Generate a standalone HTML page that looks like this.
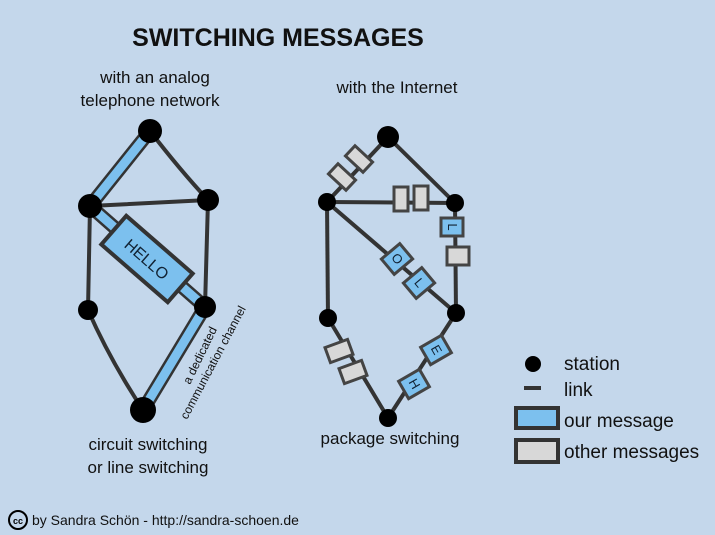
<!DOCTYPE html>
<html><head><style>
body{margin:0;background:#c4d7eb;}
svg{display:block;font-family:"Liberation Sans",sans-serif;}
</style></head><body>
<svg width="715" height="535" viewBox="0 0 715 535">
<rect width="715" height="535" fill="#c4d7eb"/>
<text x="278" y="46" font-size="25" font-weight="bold" text-anchor="middle" fill="#111">SWITCHING MESSAGES</text>
<text x="155" y="83" font-size="17" text-anchor="middle" fill="#111">with an analog</text>
<text x="150" y="106" font-size="17" text-anchor="middle" fill="#111">telephone network</text>
<text x="397" y="93" font-size="17" text-anchor="middle" fill="#111">with the Internet</text>
<text x="148" y="450" font-size="17" text-anchor="middle" fill="#111">circuit switching</text>
<text x="148" y="473" font-size="17" text-anchor="middle" fill="#111">or line switching</text>
<text x="390" y="444" font-size="17" text-anchor="middle" fill="#111">package switching</text>
<g stroke="#333" stroke-width="4" fill="none" stroke-linecap="round">
<path d="M150 131 Q180 170 208 200"/>
<path d="M90 206 L208 200"/>
<path d="M90 206 L88 310"/>
<path d="M208 200 L205 307"/>
<path d="M88 310 Q110 360 143 410"/>
</g>
<line x1="150" y1="131" x2="90" y2="206" stroke="#333" stroke-width="14"/>
<line x1="150" y1="131" x2="90" y2="206" stroke="#7cc0ee" stroke-width="9"/>
<line x1="205" y1="307" x2="143" y2="410" stroke="#333" stroke-width="14"/>
<line x1="205" y1="307" x2="143" y2="410" stroke="#7cc0ee" stroke-width="9"/>
<line x1="90" y1="206" x2="205" y2="307" stroke="#333" stroke-width="14"/>
<line x1="90" y1="206" x2="205" y2="307" stroke="#7cc0ee" stroke-width="9"/>
<g transform="translate(147,259) rotate(41)">
<rect x="-44" y="-19" width="88" height="38" fill="#7cc0ee" stroke="#333" stroke-width="4"/>
<text x="0" y="6" font-size="16" text-anchor="middle" fill="#123">HELLO</text>
</g>
<g fill="#000">
<circle cx="150" cy="131" r="12"/><circle cx="90" cy="206" r="12"/><circle cx="208" cy="200" r="11"/>
<circle cx="88" cy="310" r="10"/><circle cx="205" cy="307" r="11"/><circle cx="143" cy="410" r="13"/>
</g>
<text transform="translate(190,385) rotate(-64)" font-size="12" fill="#111">a dedicated</text>
<text transform="translate(187,420) rotate(-62)" font-size="12" fill="#111">communication channel</text>
<g stroke="#333" stroke-width="4" fill="none">
<line x1="388" y1="137" x2="327" y2="202"/>
<line x1="388" y1="137" x2="455" y2="203"/>
<line x1="327" y1="202" x2="455" y2="203"/>
<line x1="327" y1="202" x2="328" y2="318"/>
<line x1="327" y1="202" x2="456" y2="313"/>
<line x1="455" y1="203" x2="456" y2="313"/>
<line x1="328" y1="318" x2="388" y2="418"/>
<line x1="456" y1="313" x2="388" y2="418"/>
</g>
<g stroke="#444" stroke-width="3">
<rect x="-12" y="-7" width="24" height="14" fill="#d8d8d8" transform="translate(359,159) rotate(43)"/>
<rect x="-12" y="-7" width="24" height="14" fill="#d8d8d8" transform="translate(342,177) rotate(43)"/>
<rect x="-7" y="-12" width="14" height="24" fill="#d8d8d8" transform="translate(401,199)"/>
<rect x="-7" y="-12" width="14" height="24" fill="#d8d8d8" transform="translate(421,198)"/>
<rect x="-11" y="-9" width="22" height="18" fill="#d8d8d8" transform="translate(458,256)"/>
<rect x="-12" y="-8" width="24" height="16" fill="#d8d8d8" transform="translate(339,351) rotate(-20)"/>
<rect x="-12" y="-8" width="24" height="16" fill="#d8d8d8" transform="translate(353,372) rotate(-20)"/>
<rect x="-11" y="-9" width="22" height="18" fill="#7cc0ee" transform="translate(452,227)"/>
<rect x="-12" y="-10" width="24" height="20" fill="#7cc0ee" transform="translate(397,259) rotate(-40)"/>
<rect x="-12" y="-10" width="24" height="20" fill="#7cc0ee" transform="translate(419,283) rotate(-40)"/>
<rect x="-12" y="-10" width="24" height="20" fill="#7cc0ee" transform="translate(436,350) rotate(-30)"/>
<rect x="-12" y="-10" width="24" height="20" fill="#7cc0ee" transform="translate(414,384) rotate(-30)"/>
</g>
<g font-size="13" fill="#123" text-anchor="middle">
<text transform="translate(452,227) rotate(90)" y="4">L</text>
<text transform="translate(397,259) rotate(50)" y="4">O</text>
<text transform="translate(419,283) rotate(50)" y="4">L</text>
<text transform="translate(436,350) rotate(60)" y="4">E</text>
<text transform="translate(414,384) rotate(60)" y="4">H</text>
</g>
<g fill="#000">
<circle cx="388" cy="137" r="11"/><circle cx="327" cy="202" r="9"/><circle cx="455" cy="203" r="9"/>
<circle cx="328" cy="318" r="9"/><circle cx="456" cy="313" r="9"/><circle cx="388" cy="418" r="9"/>
</g>
<circle cx="533" cy="364" r="8" fill="#000"/>
<line x1="524" y1="388" x2="541" y2="388" stroke="#333" stroke-width="4"/>
<rect x="516" y="408" width="42" height="20" fill="#7cc0ee" stroke="#333" stroke-width="4"/>
<rect x="516" y="440" width="42" height="22" fill="#d8d8d8" stroke="#333" stroke-width="4"/>
<g font-size="19" fill="#111">
<text x="564" y="370">station</text>
<text x="564" y="396">link</text>
<text x="564" y="427">our message</text>
<text x="564" y="458">other messages</text>
</g>
<circle cx="18" cy="520" r="9" fill="none" stroke="#000" stroke-width="2"/>
<text x="18" y="524" font-size="9" font-weight="bold" text-anchor="middle">cc</text>
<text x="32" y="525" font-size="14" fill="#111">by Sandra Schön - http://sandra-schoen.de</text>
</svg>
</body></html>
